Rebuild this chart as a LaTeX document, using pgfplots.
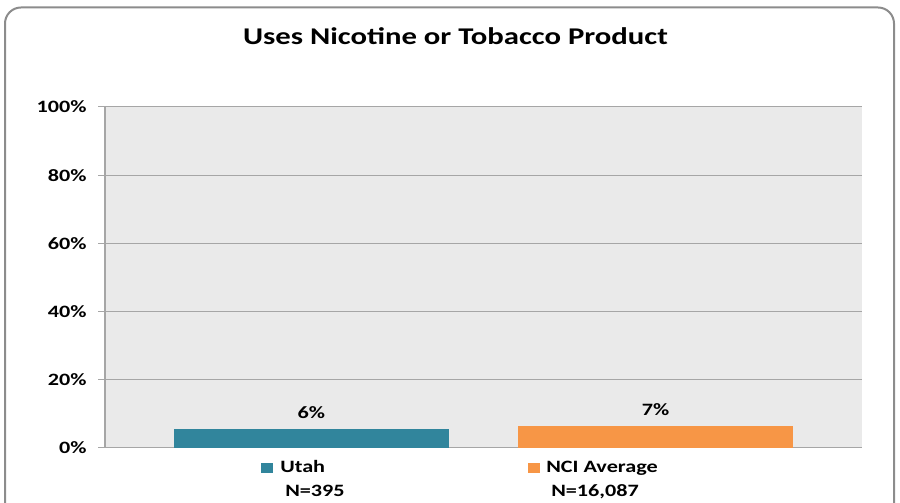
\documentclass[border=0pt]{standalone}
\usepackage{fontspec}
\setmainfont{Carlito}[FakeStretch=1.28]
\usepackage{pgfplots}
\pgfplotsset{compat=1.18}
\definecolor{utah}{HTML}{31859C}
\definecolor{nci}{HTML}{F79646}
\definecolor{plotbg}{HTML}{EAEAEA}
\definecolor{gridc}{HTML}{A6A6A6}
\definecolor{framec}{HTML}{8C8C8C}
\newcommand{\lf}{\fontsize{13}{15}\selectfont\bfseries}
\begin{document}
\begin{tikzpicture}
\useasboundingbox (0,0) rectangle (675pt,377.25pt);
\begin{scope}[x=0.75pt,y=-0.75pt,yshift=377.25pt]
\clip (0,0) rectangle (900,503);
\draw[framec, line width=1.5pt, rounded corners=12pt] (5,7.5) rectangle (894,530);
\end{scope}
\begin{axis}[at={(78.75pt,41.25pt)}, anchor=south west, scale only axis,
  width=567.75pt, height=255.75pt,
  xmin=-0.6, xmax=1.6, ymin=0, ymax=100,
  axis lines=left, axis line style={-, gridc, line width=0.75pt},
  axis background/.style={fill=plotbg},
  xtick=\empty,
  ytick={0,20,40,60,80,100},
  yticklabels={0\%,20\%,40\%,60\%,80\%,100\%},
  yticklabel style={font=\lf, text=black, xshift=-5pt},
  tick align=outside, major tick length=5.25pt,
  tick style={gridc, line width=0.75pt},
  ymajorgrids, grid style={gridc, line width=0.75pt},
  point meta=explicit symbolic,
  nodes near coords={\pgfplotspointmeta},
  every node near coord/.append style={font=\lf, text=black, anchor=base, yshift=8pt},
  clip=false,
]
\addplot[ybar, bar width=206.25pt, fill=utah, draw=none] coordinates {(0,5.6) [6\%]};
\addplot[ybar, bar width=206.25pt, fill=nci, draw=none] coordinates {(1,6.5) [7\%]};
\end{axis}
\begin{scope}[x=0.75pt,y=-0.75pt,yshift=377.25pt]
\node[anchor=base, font=\fontsize{18}{21}\selectfont\bfseries] at (455.5,45) {Uses Nicotine or Tobacco Product};
\fill[utah] (261,463) rectangle (273,473);
\node[anchor=base west, font=\lf, inner sep=0pt] at (280,473) {Utah};
\node[anchor=base west, font=\lf, inner sep=0pt] at (285,497) {N=395};
\fill[nci] (528,463) rectangle (540,473);
\node[anchor=base west, font=\lf, inner sep=0pt] at (546,473) {NCI Average};
\node[anchor=base west, font=\lf, inner sep=0pt] at (551,497) {N=16,087};
\end{scope}
\end{tikzpicture}
\end{document}
